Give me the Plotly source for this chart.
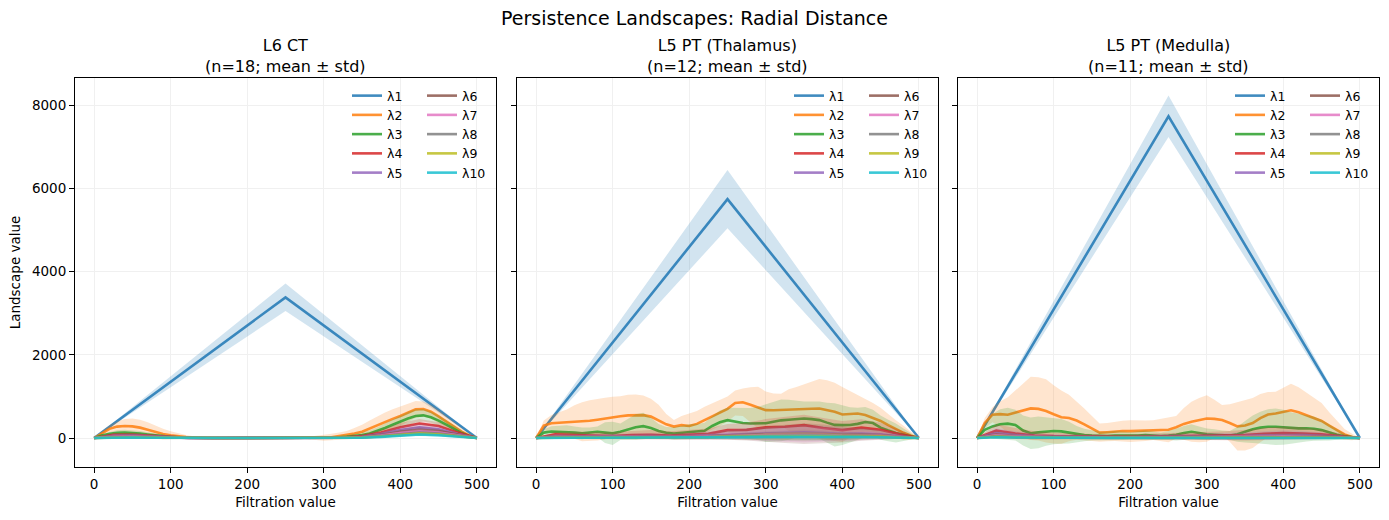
import plotly.graph_objects as go

# ---------------- data ----------------
T_L1 = [0, 250, 500]
T10 = list(range(0, 501, 10))
T25 = list(range(0, 501, 25))

PANEL_TITLES = ["L6 CT<br>(n=18; mean ± std)",
                "L5 PT (Thalamus)<br>(n=12; mean ± std)",
                "L5 PT (Medulla)<br>(n=11; mean ± std)"]
SUPTITLE = "Persistence Landscapes: Radial Distance"
LAMBDA_NAMES = ["λ1", "λ2", "λ3", "λ4", "λ5", "λ6", "λ7", "λ8", "λ9", "λ10"]
COLORS = ['#1f77b4', '#ff7f0e', '#2ca02c', '#d62728', '#9467bd',
          '#8c564b', '#e377c2', '#7f7f7f', '#bcbd22', '#17becf']
X_TICKS = [0, 100, 200, 300, 400, 500]
Y_TICKS = [0, 2000, 4000, 6000, 8000]

# ---- Panel 1: L6 CT ----
P1_L1 = [0, 3380, 0]
P1_L1_SD = [0, 330, 0]
P1_L2 = [0, 120, 220, 275, 290, 280, 250, 200, 140, 95,
         65, 40, 25, 12, 5, 2, 0, 0, 0, 0,
         0, 0, 0, 0, 0, 0, 0, 0, 0, 0,
         5, 20, 45, 70, 110, 150, 232, 310, 392, 460,
         528, 610, 688, 696, 632, 520, 392, 280, 152, 60, 0]
P1_L2_SD = [0, 40, 80, 120, 170, 190, 190, 180, 160, 130,
            95, 70, 50, 30, 15, 5, 0, 0, 0, 0,
            0, 0, 0, 0, 0, 0, 0, 10, 30, 50,
            70, 80, 90, 100, 130, 170, 190, 210, 220, 230,
            230, 220, 200, 180, 170, 160, 140, 110, 70, 35, 0]
P1_L3 = [0, 60, 100, 125, 130, 122, 105, 85, 62, 42,
         28, 16, 8, 3, 1, 0, 0, 0, 0, 0,
         0, 0, 0, 0, 0, 0, 0, 0, 0, 0,
         0, 8, 18, 30, 45, 70, 110, 170, 240, 320,
         400, 470, 530, 545, 500, 420, 320, 220, 120, 50, 0]
P1_L3_SD = [0, 25, 45, 60, 70, 70, 65, 55, 45, 35,
            25, 15, 8, 4, 1, 0, 0, 0, 0, 0,
            0, 0, 0, 0, 0, 0, 0, 0, 0, 0,
            5, 15, 25, 35, 45, 60, 75, 90, 110, 130,
            145, 155, 160, 150, 135, 120, 100, 80, 55, 25, 0]
P1_L4 = [0, 75, 80, 50, 20, 5, 0, 0, 0, 0, 0, 0, 0, 12, 45, 130, 260, 350, 290, 130, 0]
P1_L4_SD = [0, 40, 45, 35, 18, 5, 0, 0, 0, 0, 0, 0, 5, 20, 40, 70, 100, 110, 90, 50, 0]
P1_L5 = [0, 55, 60, 35, 14, 3, 0, 0, 0, 0, 0, 0, 0, 8, 32, 95, 190, 255, 210, 95, 0]
P1_L5_SD = [0, 35, 45, 35, 15, 4, 0, 0, 0, 0, 0, 0, 4, 15, 30, 55, 80, 90, 75, 40, 0]
P1_L6 = [0, 40, 45, 26, 10, 2, 0, 0, 0, 0, 0, 0, 0, 6, 25, 75, 150, 200, 165, 75, 0]
P1_L6_SD = [0, 30, 40, 30, 12, 3, 0, 0, 0, 0, 0, 0, 3, 12, 25, 45, 65, 75, 60, 35, 0]
P1_L7 = [0, 30, 34, 20, 8, 2, 0, 0, 0, 0, 0, 0, 0, 5, 19, 58, 118, 160, 132, 60, 0]
P1_L7_SD = [0, 25, 32, 25, 10, 2, 0, 0, 0, 0, 0, 0, 2, 10, 20, 36, 52, 60, 50, 28, 0]
P1_L8 = [0, 22, 26, 15, 6, 1, 0, 0, 0, 0, 0, 0, 0, 4, 15, 46, 95, 130, 105, 48, 0]
P1_L8_SD = [0, 20, 26, 20, 8, 2, 0, 0, 0, 0, 0, 0, 2, 8, 16, 30, 44, 50, 42, 24, 0]
P1_L9 = [0, 16, 19, 11, 4, 1, 0, 0, 0, 0, 0, 0, 0, 3, 11, 36, 75, 105, 85, 38, 0]
P1_L9_SD = [0, 16, 20, 16, 6, 1, 0, 0, 0, 0, 0, 0, 2, 6, 13, 24, 36, 42, 34, 20, 0]
P1_L10 = [0, 11, 13, 8, 3, 0, 0, 0, 0, 0, 0, 0, 0, 2, 8, 27, 58, 85, 68, 30, 0]
P1_L10_SD = [0, 12, 15, 12, 5, 1, 0, 0, 0, 0, 0, 0, 1, 5, 10, 19, 28, 34, 28, 16, 0]

# ---- Panel 2: L5 PT (Thalamus) ----
P2_L1 = [0, 5740, 0]
P2_L1_SD = [0, 700, 0]
P2_L2 = [0, 300, 355, 368, 375, 385, 392, 415, 440, 470,
         505, 525, 545, 552, 550, 515, 430, 330, 275, 310,
         290, 340, 430, 520, 600, 700, 840, 860, 800, 730,
         670, 668, 672, 675, 685, 695, 705, 710, 670, 630,
         565, 570, 590, 552, 490, 410, 310, 220, 125, 55, 0]
P2_L2_SD = [0, 120, 200, 260, 310, 400, 470, 490, 500, 500,
            485, 480, 495, 495, 470, 430, 370, 250, 160, 220,
            300, 310, 320, 320, 310, 300, 300, 330, 420, 500,
            450, 400, 390, 500, 540, 600, 650, 710, 720, 700,
            660, 560, 450, 400, 350, 320, 260, 210, 170, 100, 0]
P2_L3 = [0, 130, 155, 150, 150, 130, 112, 125, 150, 130,
         112, 150, 210, 260, 285, 240, 170, 125, 110, 130,
         150, 160, 175, 290, 380, 430, 395, 360, 350, 350,
         355, 390, 425, 440, 455, 470, 455, 430, 370, 315,
         310, 312, 340, 385, 360, 250, 180, 120, 80, 35, 0]
P2_L3_SD = [0, 80, 130, 150, 160, 150, 140, 130, 130, 250,
            280, 200, 260, 310, 320, 250, 170, 140, 150, 170,
            180, 180, 190, 230, 280, 300, 330, 360, 370, 400,
            450, 480, 500, 480, 440, 410, 420, 450, 480, 520,
            480, 430, 390, 360, 320, 290, 260, 230, 150, 70, 0]
P2_L4 = [0, 90, 70, 60, 50, 70, 80, 60, 80, 100, 190, 195, 255, 272, 310, 240, 190, 250, 200, 90, 0]
P2_L4_SD = [0, 60, 80, 90, 90, 100, 110, 100, 110, 130, 150, 170, 200, 230, 250, 240, 220, 200, 170, 100, 0]
P2_L5 = [0, 50, 40, 35, 30, 40, 45, 35, 45, 60, 90, 100, 120, 130, 140, 120, 100, 110, 90, 40, 0]
P2_L5_SD = [0, 40, 50, 60, 60, 70, 70, 60, 70, 90, 110, 130, 150, 170, 180, 170, 150, 130, 110, 60, 0]
P2_L6 = [0, 40, 30, 25, 25, 30, 35, 28, 35, 45, 70, 80, 95, 100, 105, 95, 80, 85, 70, 30, 0]
P2_L6_SD = [0, 35, 40, 50, 50, 55, 55, 50, 60, 80, 110, 140, 180, 220, 250, 230, 190, 150, 110, 50, 0]
P2_L7 = [0, 30, 22, 20, 20, 22, 25, 20, 25, 35, 55, 60, 75, 80, 80, 75, 60, 65, 55, 25, 0]
P2_L7_SD = [0, 30, 35, 40, 40, 45, 45, 40, 50, 65, 90, 110, 140, 170, 190, 170, 140, 120, 90, 40, 0]
P2_L8 = [0, 22, 16, 15, 15, 16, 18, 15, 18, 25, 40, 45, 55, 60, 60, 55, 45, 50, 40, 18, 0]
P2_L8_SD = [0, 25, 28, 30, 30, 35, 35, 30, 38, 50, 70, 85, 105, 125, 140, 125, 105, 90, 70, 30, 0]
P2_L9 = [0, 15, 12, 10, 10, 12, 13, 10, 13, 18, 30, 32, 40, 45, 45, 40, 32, 36, 30, 12, 0]
P2_L9_SD = [0, 18, 20, 22, 22, 25, 25, 22, 28, 36, 50, 62, 78, 92, 100, 92, 78, 66, 50, 22, 0]
P2_L10 = [0, 10, 8, 7, 7, 8, 9, 7, 9, 12, 20, 22, 28, 30, 30, 28, 22, 25, 20, 8, 0]
P2_L10_SD = [0, 12, 14, 15, 15, 17, 17, 15, 19, 25, 35, 42, 52, 62, 70, 62, 52, 45, 35, 15, 0]

# ---- Panel 3: L5 PT (Medulla) ----
P3_L1 = [0, 7730, 0]
P3_L1_SD = [0, 500, 0]
P3_L2 = [0, 360, 560, 575, 560, 608, 665, 712, 700, 650,
         570, 500, 480, 420, 330, 230, 130, 140, 160, 168,
         165, 170, 175, 190, 195, 200, 260, 340, 392, 430,
         470, 460, 432, 360, 280, 300, 360, 480, 565, 590,
         620, 665, 620, 545, 470, 410, 300, 200, 85, 25, 0]
P3_L2_SD = [0, 120, 180, 300, 420, 540, 650, 760, 760, 760,
            700, 640, 560, 460, 380, 300, 220, 220, 230, 250,
            260, 250, 245, 240, 270, 300, 270, 380, 480, 530,
            560, 460, 360, 450, 580, 600, 600, 580, 540, 520,
            580, 640, 600, 550, 480, 430, 320, 220, 130, 80, 0]
P3_L3 = [0, 200, 280, 330, 345, 312, 180, 115, 135, 155,
         170, 160, 130, 90, 70, 60, 50, 50, 60, 55,
         50, 60, 70, 55, 45, 60, 80, 120, 150, 120,
         90, 80, 70, 60, 90, 150, 210, 250, 270, 272,
         260, 240, 232, 235, 225, 190, 130, 80, 40, 15, 0]
P3_L3_SD = [0, 150, 300, 360, 380, 370, 360, 380, 380, 340,
            320, 300, 260, 200, 150, 120, 100, 100, 110, 100,
            90, 100, 110, 100, 90, 110, 140, 170, 180, 160,
            140, 130, 110, 110, 180, 260, 330, 380, 420, 440,
            420, 380, 350, 320, 290, 250, 190, 120, 60, 25, 0]
P3_L4 = [0, 180, 110, 60, 45, 40, 30, 25, 30, 35, 40, 50, 60, 55, 70, 100, 120, 110, 90, 40, 0]
P3_L4_SD = [0, 150, 130, 100, 80, 70, 60, 60, 60, 70, 80, 90, 100, 110, 130, 150, 160, 150, 120, 60, 0]
P3_L5 = [0, 120, 70, 40, 30, 25, 20, 18, 20, 25, 28, 35, 40, 38, 45, 65, 75, 70, 55, 25, 0]
P3_L5_SD = [0, 110, 90, 70, 60, 50, 45, 45, 45, 50, 55, 60, 70, 80, 90, 100, 110, 100, 80, 40, 0]
P3_L6 = [0, 90, 50, 28, 22, 18, 15, 13, 15, 18, 20, 25, 28, 27, 32, 45, 55, 50, 40, 18, 0]
P3_L6_SD = [0, 80, 70, 55, 45, 40, 35, 35, 35, 40, 45, 50, 55, 60, 70, 80, 85, 80, 60, 30, 0]
P3_L7 = [0, 65, 35, 20, 16, 13, 11, 10, 11, 13, 15, 18, 20, 20, 24, 33, 40, 36, 28, 13, 0]
P3_L7_SD = [0, 60, 52, 42, 35, 30, 27, 27, 27, 30, 34, 38, 42, 45, 52, 60, 64, 60, 45, 22, 0]
P3_L8 = [0, 45, 25, 14, 11, 9, 8, 7, 8, 9, 11, 13, 15, 14, 17, 24, 28, 26, 20, 9, 0]
P3_L8_SD = [0, 45, 40, 32, 26, 22, 20, 20, 20, 22, 25, 28, 32, 34, 40, 45, 48, 45, 34, 17, 0]
P3_L9 = [0, 30, 17, 10, 8, 6, 5, 5, 5, 6, 8, 9, 10, 10, 12, 16, 20, 18, 14, 6, 0]
P3_L9_SD = [0, 32, 28, 22, 18, 16, 14, 14, 14, 16, 18, 20, 22, 24, 28, 32, 34, 32, 24, 12, 0]
P3_L10 = [0, 20, 11, 6, 5, 4, 3, 3, 3, 4, 5, 6, 7, 6, 8, 11, 13, 12, 9, 4, 0]
P3_L10_SD = [0, 22, 19, 15, 12, 11, 10, 10, 10, 11, 12, 14, 15, 16, 19, 22, 23, 22, 16, 8, 0]

PANELS = [
    [(T_L1, P1_L1, P1_L1_SD), (T10, P1_L2, P1_L2_SD), (T10, P1_L3, P1_L3_SD),
     (T25, P1_L4, P1_L4_SD), (T25, P1_L5, P1_L5_SD), (T25, P1_L6, P1_L6_SD),
     (T25, P1_L7, P1_L7_SD), (T25, P1_L8, P1_L8_SD), (T25, P1_L9, P1_L9_SD),
     (T25, P1_L10, P1_L10_SD)],
    [(T_L1, P2_L1, P2_L1_SD), (T10, P2_L2, P2_L2_SD), (T10, P2_L3, P2_L3_SD),
     (T25, P2_L4, P2_L4_SD), (T25, P2_L5, P2_L5_SD), (T25, P2_L6, P2_L6_SD),
     (T25, P2_L7, P2_L7_SD), (T25, P2_L8, P2_L8_SD), (T25, P2_L9, P2_L9_SD),
     (T25, P2_L10, P2_L10_SD)],
    [(T_L1, P3_L1, P3_L1_SD), (T10, P3_L2, P3_L2_SD), (T10, P3_L3, P3_L3_SD),
     (T25, P3_L4, P3_L4_SD), (T25, P3_L5, P3_L5_SD), (T25, P3_L6, P3_L6_SD),
     (T25, P3_L7, P3_L7_SD), (T25, P3_L8, P3_L8_SD), (T25, P3_L9, P3_L9_SD),
     (T25, P3_L10, P3_L10_SD)],
]

# ---------------- figure ----------------
FONT = "DejaVu Sans"
W, H = 1389, 520
ML, MR, MT, MB = 75, 10, 78, 53
PW = W - ML - MR
PANEL_PX = [(75, 496), (517, 938), (958, 1379)]
DOMAINS = [[(a - ML) / PW, (b - ML) / PW] for a, b in PANEL_PX]


def rgba(hex_color, a):
    h = hex_color.lstrip('#')
    r, g, b = int(h[0:2], 16), int(h[2:4], 16), int(h[4:6], 16)
    return f"rgba({r},{g},{b},{a})"


fig = go.Figure()
for p, series in enumerate(PANELS):
    xa = 'x' if p == 0 else f'x{p + 1}'
    ya = 'y' if p == 0 else f'y{p + 1}'
    for k, (x, m, s) in enumerate(series):
        upper = [a + b for a, b in zip(m, s)]
        lower = [a - b for a, b in zip(m, s)]
        fig.add_trace(go.Scatter(
            x=list(x) + list(x)[::-1], y=upper + lower[::-1],
            fill='toself', fillcolor=rgba(COLORS[k], 0.2),
            line=dict(width=0), mode='lines', hoverinfo='skip',
            showlegend=False, xaxis=xa, yaxis=ya))
        li = 2 * p + (1 if k < 5 else 2)
        lname = 'legend' if li == 1 else f'legend{li}'
        fig.add_trace(go.Scatter(
            x=x, y=m, mode='lines', name=LAMBDA_NAMES[k],
            line=dict(color=rgba(COLORS[k], 0.85), width=2.6),
            xaxis=xa, yaxis=ya, legend=lname, showlegend=True))

axis_common = dict(showline=True, linecolor='black', linewidth=1, mirror=True,
                   ticks='outside', ticklen=5, tickwidth=1, tickcolor='black',
                   showgrid=True, gridcolor='#f0f0f0', gridwidth=1, zeroline=False,
                   tickfont=dict(family=FONT, size=13.5, color='black'))

layout = dict(
    width=W, height=H,
    margin=dict(l=ML, r=MR, t=MT, b=MB),
    paper_bgcolor='white', plot_bgcolor='white',
    font=dict(family=FONT, color='black'),
    title=dict(text=SUPTITLE, x=0.5, xref='container', y=1 - 18 / H, yref='container',
               xanchor='center', yanchor='middle', font=dict(size=19, family=FONT)),
)

for p in range(3):
    xk = 'xaxis' if p == 0 else f'xaxis{p + 1}'
    yk = 'yaxis' if p == 0 else f'yaxis{p + 1}'
    layout[xk] = dict(axis_common, domain=DOMAINS[p], range=[-25, 525], tickvals=X_TICKS,
                      anchor='y' if p == 0 else f'y{p + 1}',
                      title=dict(text='Filtration value', standoff=6,
                                 font=dict(family=FONT, size=13.5)))
    yd = dict(axis_common, domain=[0, 1], range=[-696, 8650], tickvals=Y_TICKS,
              anchor='x' if p == 0 else f'x{p + 1}')
    if p == 0:
        yd['title'] = dict(text='Landscape value', standoff=8, font=dict(family=FONT, size=13.5))
    else:
        yd['showticklabels'] = False
        yd['matches'] = 'y'
    layout[yk] = yd

# legends: two columns per panel
LEG_LEFT_PX = [347, 422]
for p in range(3):
    off = PANEL_PX[p][0] - PANEL_PX[0][0]
    for c in range(2):
        li = 2 * p + c + 1
        lname = 'legend' if li == 1 else f'legend{li}'
        layout[lname] = dict(
            x=(LEG_LEFT_PX[c] + off - ML) / PW, y=1 - (81 - MT) / (H - MT - MB),
            xanchor='left', yanchor='top', bgcolor='rgba(0,0,0,0)', borderwidth=0,
            font=dict(family=FONT, size=12.5, color='black'), itemwidth=30,
            tracegroupgap=0)

annotations = []
for p in range(3):
    annotations.append(dict(
        text=PANEL_TITLES[p], x=(DOMAINS[p][0] + DOMAINS[p][1]) / 2, y=1,
        xref='paper', yref='paper', xanchor='center', yanchor='bottom', yshift=0,
        showarrow=False, font=dict(family=FONT, size=16, color='black')))
layout['annotations'] = annotations

fig.update_layout(**layout)
fig.write_html("out.html")
